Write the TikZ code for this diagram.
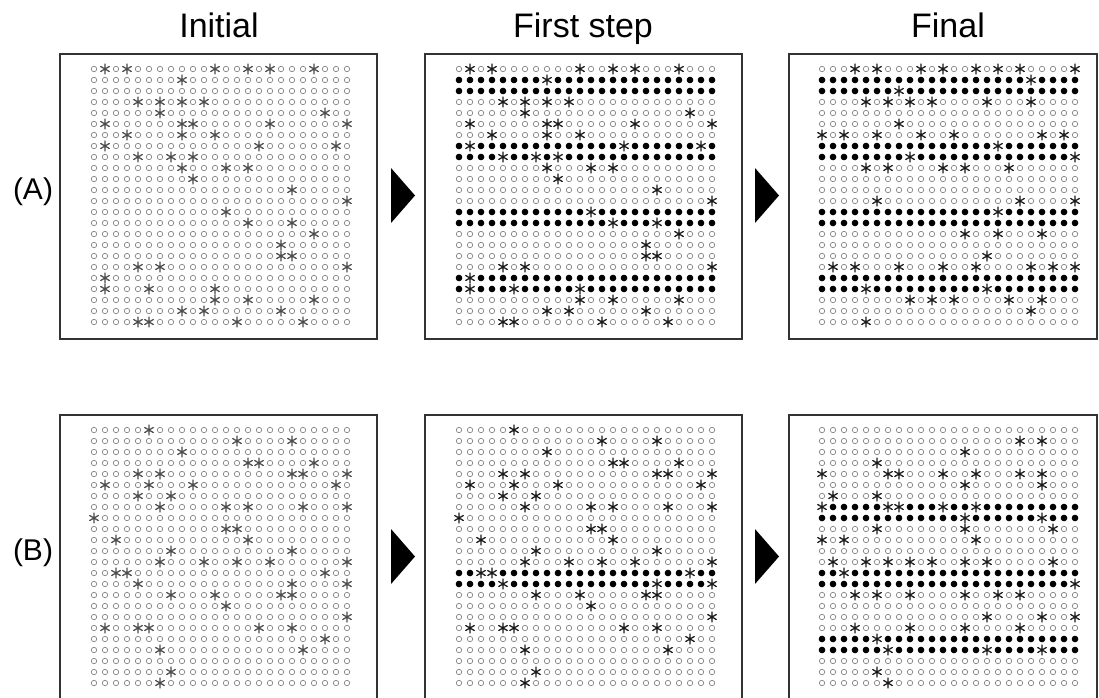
\documentclass[tikz,border=0pt]{standalone}
\usepackage{fontspec}
\setmainfont{Liberation Sans}
\tikzset{
  panelbox/.style={draw=black!80, line width=1.8pt},
  opendot/.style={draw=black!55, line width=0.6pt},
  fulldot/.style={fill=black},
  starmark/.style={line width=1.25pt, line cap=round},
  starbg/.style={fill=white},
  stepmark/.style={fill=black},
  coltitle/.style={font=\fontsize{34}{40}\selectfont, anchor=base, inner sep=0pt},
  rowlabel/.style={font=\fontsize{30}{36}\selectfont, anchor=base, inner sep=0pt},
}
% open circles of a 24x24 grid; #1,#2 = grid origin (first column / first row)
\newcommand{\opengrid}[2]{%
  \foreach \r in {1,...,24}{
    \draw[opendot] foreach \c in {1,...,24}{ ({#1+(\c-1)*11},{#2+(\r-1)*11}) circle[radius=2.7] };
  }}
% filled rows
\newcommand{\fullrows}[3]{%
  \foreach \r in {#3}{
    \fill[fulldot] foreach \c in {1,...,24}{ ({#1+(\c-1)*11},{#2+(\r-1)*11}) circle[radius=3.3] };
  }}
% asterisks; #3 colour, #4 macro holding a list row/col
\newcommand{\starsat}[4]{%
  \foreach \r/\c in #4 {
      \pgfmathsetmacro{\astx}{#1+(\c-1)*11}
      \pgfmathsetmacro{\asty}{#2+(\r-1)*11}
      \fill[starbg] (\astx,\asty) circle[radius=4.2];
      \draw[starmark, draw=#3] (\astx,\asty) +(0,-5) -- +(0,5) +(-4.3,-2.5) -- +(4.3,2.5) +(-4.3,2.5) -- +(4.3,-2.5);
  }}
\newcommand{\starsA}{1/2,1/4,1/12,1/15,1/17,1/21,2/9,4/5,4/7,4/9,4/11,5/7,5/22,6/2,6/9,6/10,6/17,6/24,7/4,7/9,7/12,8/2,8/16,8/23,9/5,9/8,9/10,10/9,10/13,10/15,11/10,12/19,13/24,14/13,15/15,15/19,16/21,17/18,18/18,18/19,19/5,19/7,19/24,20/2,21/2,21/6,21/12,22/12,22/15,22/21,23/9,23/11,23/18,24/5,24/6,24/14,24/20}
\newcommand{\starsAf}{1/4,1/6,1/10,1/12,1/15,1/17,1/19,1/24,2/20,3/8,4/5,4/7,4/9,4/11,4/16,4/20,6/8,7/1,7/3,7/6,7/10,7/13,7/21,7/23,8/17,9/9,9/24,10/5,10/7,10/12,10/14,10/18,13/6,13/19,13/24,14/17,16/14,16/17,16/21,18/16,19/2,19/4,19/8,19/12,19/15,19/20,19/22,19/24,21/5,21/16,22/9,22/11,22/13,22/18,22/21,23/20,24/5}
\newcommand{\starsB}{1/6,2/14,2/19,3/9,4/15,4/16,4/21,5/5,5/7,5/19,5/20,5/24,6/2,6/6,6/10,6/23,7/5,7/8,8/7,8/13,8/15,8/20,8/24,9/1,10/13,10/14,11/3,11/15,12/8,12/19,13/7,13/11,13/14,13/17,13/24,14/3,14/4,14/22,15/5,15/19,15/24,16/8,16/12,16/18,16/19,17/13,18/24,19/2,19/5,19/6,19/16,19/19,20/22,21/7,21/20,23/8,24/7}
\newcommand{\starsBf}{2/19,2/21,3/14,4/6,5/1,5/7,5/8,5/12,5/15,5/19,5/21,6/14,6/21,7/2,7/6,8/1,8/7,8/8,8/12,8/15,9/14,9/21,10/6,10/14,10/22,11/1,11/3,11/15,13/2,13/5,13/7,13/9,13/11,13/14,13/16,13/22,14/3,15/24,16/4,16/6,16/9,16/14,16/17,16/19,18/16,18/21,18/24,19/4,19/9,19/14,19/19,20/6,21/7,21/16,21/21,23/6,24/7}
\begin{document}
\begin{tikzpicture}[x=1pt,y=-1pt]
\useasboundingbox (0,0) rectangle (1099,697);
\fill[white] (0,0) rectangle (1099,697);

% column titles
\node[coltitle] (tInit) at (219,37) {Initial};
\node[coltitle] (tFirst) at (583,37) {First step};
\node[coltitle] (tFinal) at (948,37) {Final};
% row labels
\node[rowlabel] (lA) at (33,199) {(A)};
\node[rowlabel] (lB) at (33,560) {(B)};

% panel frames, row A
\draw[panelbox] (60,54) rectangle (377,339);
\draw[panelbox] (425,54) rectangle (742,339);
\draw[panelbox] (789,54) rectangle (1097,339);
% panel frames, row B (bottom cut off)
\draw[panelbox] (60,700) -- (60,415) -- (377,415) -- (377,700);
\draw[panelbox] (425,700) -- (425,415) -- (742,415) -- (742,700);
\draw[panelbox] (789,700) -- (789,415) -- (1097,415) -- (1097,700);

% step arrows
\fill[stepmark] (391,168) -- (415,195.5) -- (391,223) -- cycle;
\fill[stepmark] (755,168) -- (779,195.5) -- (755,223) -- cycle;
\fill[stepmark] (391,529) -- (415,556.5) -- (391,584) -- cycle;
\fill[stepmark] (755,529) -- (779,556.5) -- (755,584) -- cycle;

% row A grids
\opengrid{94}{69}
\starsat{94}{69}{black!70}{\starsA}

\opengrid{459}{69}
\fullrows{459}{69}{2,3,8,9,14,15,20,21}
\starsat{459}{69}{black!90}{\starsA}

\opengrid{822}{69}
\fullrows{822}{69}{2,3,8,9,14,15,20,21}
\starsat{822}{69}{black!90}{\starsAf}

% row B grids
\opengrid{94}{430}
\starsat{94}{430}{black!70}{\starsB}

\opengrid{459}{430}
\fullrows{459}{430}{14,15}
\starsat{459}{430}{black!90}{\starsB}

\opengrid{822}{430}
\fullrows{822}{430}{8,9,14,15,20,21}
\starsat{822}{430}{black!90}{\starsBf}
\end{tikzpicture}
\end{document}
